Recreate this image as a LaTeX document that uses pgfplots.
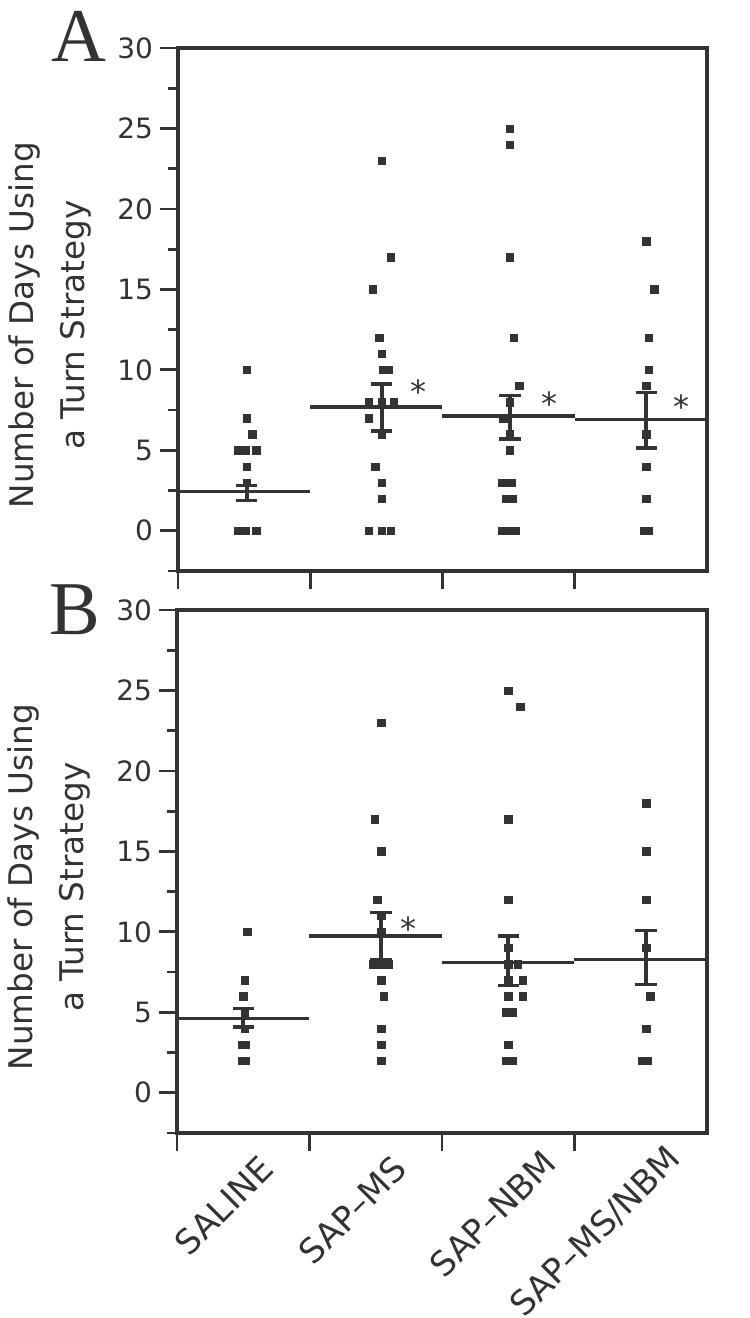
\documentclass[border=0pt]{standalone}
\usepackage{fontspec}
\setmainfont{DejaVu Sans}
\newfontfamily\serifA{Liberation Serif}
\usepackage{pgfplots}
\pgfplotsset{compat=1.18}
\definecolor{ink}{HTML}{333333}
\pgfplotsset{
  panel/.style={
    scale only axis, width=264.5pt, height=261.5pt,
    xmin=-0.5, xmax=3.5, ymin=-2.5, ymax=30,
    axis line style={ink, line width=1.7pt},
    tick style={ink, line width=1.4pt},
    tick align=outside, tick pos=left,
    major tick length=9pt, minor tick length=5pt,
    ytick={0,5,...,30}, minor ytick={-2.5,2.5,...,27.5},
    xtick={-0.5,0.5,1.5,2.5}, xticklabels={},
    /pgf/number format/assume math mode=true,
    yticklabel style={font=\fontsize{14}{16}\selectfont, text=ink},
    ylabel={Number of Days Using\\a Turn Strategy},
    ylabel style={at={(axis description cs:-0.242,0.47)}, anchor=center, align=center, font=\fontsize{16.3}{25.5}\selectfont, text=ink},
    clip=false,
  },
  pts/.style={only marks, mark=square*, mark size=1.85pt, ink, mark options={line width=0.2pt}},
  meanline/.style={ink, line width=1.8pt, mark=none},
  errline/.style={ink, line width=2pt, mark=none},
  capline/.style={ink, line width=1.7pt, mark=none},
}
\tikzset{astnode/.style={font=\fontsize{16}{18}\selectfont, text=ink, yshift=-3pt},
  catlab/.style={rotate=45, anchor=east, font=\fontsize{17}{19}\selectfont, text=ink}}
\begin{document}
\begin{tikzpicture}
\useasboundingbox (0,0) rectangle (375pt,-659pt);
% ---------------- Panel A ----------------
\begin{axis}[panel, at={(89pt,-24pt)}, anchor=north west]
\addplot[pts] coordinates {
 (0.02,10) (0.02,7) (0.06,6) (-0.05,5) (0.01,5) (0.09,5) (0.02,4) (0.02,3)
 (-0.05,0) (0.01,0) (0.09,0)};
\addplot[pts] coordinates {
 (1.04,23) (1.11,17) (0.97,15) (1.02,12) (1.04,11) (1.05,10) (1.09,10)
 (0.94,8) (1.04,8) (1.13,8) (0.94,7) (1.04,6) (0.99,4) (1.04,3) (1.04,2)
 (0.94,0) (1.04,0) (1.11,0)};
\addplot[pts] coordinates {
 (2.01,25) (2.01,24) (2.01,17) (2.04,12) (2.08,9) (2.01,8) (1.96,7) (2.01,6)
 (2.01,5) (1.95,3) (2.02,3) (1.98,2) (2.03,2) (1.95,0) (2.01,0) (2.05,0)};
\addplot[pts] coordinates {
 (3.04,18) (3.10,15) (3.06,12) (3.06,10) (3.04,9) (3.04,6) (3.04,4) (3.04,2)
 (3.02,0) (3.06,0)};
\addplot[meanline] coordinates {(-0.5,2.45) (0.5,2.45)};
\addplot[meanline] coordinates {(0.5,7.7) (1.5,7.7)};
\addplot[meanline] coordinates {(1.5,7.13) (2.5,7.13)};
\addplot[meanline] coordinates {(2.5,6.92) (3.5,6.92)};
% SEM bars
\addplot[errline] coordinates {(0.02,1.88) (0.02,2.83)};
\addplot[capline] coordinates {(-0.06,2.83) (0.10,2.83)};
\addplot[capline] coordinates {(-0.06,1.88) (0.10,1.88)};
\addplot[errline] coordinates {(1.04,6.2) (1.04,9.12)};
\addplot[capline] coordinates {(0.96,9.12) (1.12,9.12)};
\addplot[capline] coordinates {(0.96,6.2) (1.12,6.2)};
\addplot[errline] coordinates {(2.01,5.7) (2.01,8.42)};
\addplot[capline] coordinates {(1.93,8.42) (2.09,8.42)};
\addplot[capline] coordinates {(1.93,5.7) (2.09,5.7)};
\addplot[errline] coordinates {(3.04,5.14) (3.04,8.6)};
\addplot[capline] coordinates {(2.96,8.6) (3.12,8.6)};
\addplot[capline] coordinates {(2.96,5.14) (3.12,5.14)};
\node[astnode] at (axis cs:1.32,9.0) {*};
\node[astnode] at (axis cs:2.31,8.25) {*};
\node[astnode] at (axis cs:3.31,8.06) {*};
\end{axis}
% ---------------- Panel B ----------------
\begin{axis}[panel, at={(88.5pt,-305pt)}, anchor=north west, width=265pt]
\addplot[pts] coordinates {
 (0.03,10) (0.01,7) (0.0,6) (0.01,5) (0.01,4) (-0.01,3) (0.02,3) (-0.01,2) (0.02,2)};
\addplot[pts] coordinates {
 (1.04,23) (0.99,17) (1.04,15) (1.01,12) (1.04,11) (1.04,10) (0.98,8) (1.04,8)
 (1.10,8) (1.04,7) (1.06,6) (1.04,4) (1.04,3) (1.04,2)};
\addplot[pts] coordinates {
 (2.00,25) (2.09,24) (2.00,17) (2.00,12) (2.00,9) (2.00,8) (2.07,8) (2.00,7)
 (2.11,7) (2.00,6) (2.11,6) (1.98,5) (2.03,5) (2.00,3) (1.98,2) (2.03,2)};
\addplot[pts] coordinates {
 (3.04,18) (3.04,15) (3.04,12) (3.04,9) (3.07,6) (3.04,4) (3.01,2) (3.05,2)};
\addplot[meanline] coordinates {(-0.5,4.62) (0.5,4.62)};
\addplot[meanline] coordinates {(0.5,9.74) (1.5,9.74)};
\addplot[meanline] coordinates {(1.5,8.1) (2.5,8.1)};
\addplot[meanline] coordinates {(2.5,8.28) (3.5,8.28)};
% SEM bars
\addplot[errline] coordinates {(0.0,4.1) (0.0,5.22)};
\addplot[capline] coordinates {(-0.08,5.22) (0.08,5.22)};
\addplot[capline] coordinates {(-0.08,4.1) (0.08,4.1)};
\addplot[errline] coordinates {(1.04,8.25) (1.04,11.2)};
\addplot[capline] coordinates {(0.96,11.2) (1.12,11.2)};
\addplot[capline] coordinates {(0.96,8.25) (1.12,8.25)};
\addplot[errline] coordinates {(2.0,6.68) (2.0,9.74)};
\addplot[capline] coordinates {(1.92,9.74) (2.08,9.74)};
\addplot[capline] coordinates {(1.92,6.68) (2.08,6.68)};
\addplot[errline] coordinates {(3.04,6.72) (3.04,10.1)};
\addplot[capline] coordinates {(2.96,10.1) (3.12,10.1)};
\addplot[capline] coordinates {(2.96,6.72) (3.12,6.72)};
\node[astnode] at (axis cs:1.25,10.6) {*};
% category labels
\node[catlab] at (axis cs:0.215,-4.05) {SALINE};
\node[catlab] at (axis cs:1.22,-4.05) {SAP–MS};
\node[catlab] at (axis cs:2.35,-3.68) {SAP–NBM};
\node[catlab] at (axis cs:3.295,-3.43) {SAP–MS/NBM};
\end{axis}
\node[font=\serifA\fontsize{38}{38}\selectfont, text=ink, anchor=base] at (39.5pt,-30.5pt) {A};
\node[font=\serifA\fontsize{38}{38}\selectfont, text=ink, anchor=base] at (37.5pt,-317pt) {B};
\end{tikzpicture}
\end{document}
